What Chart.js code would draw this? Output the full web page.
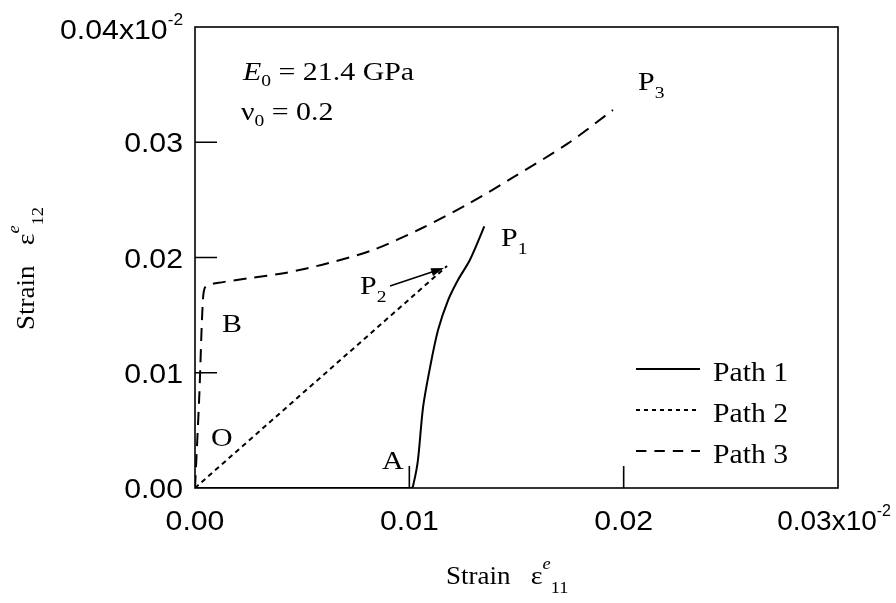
<!DOCTYPE html>
<html>
<head>
<meta charset="utf-8">
<script src="https://cdn.jsdelivr.net/npm/chart.js@4.4.1/dist/chart.umd.min.js"></script>
<style>
  html, body { margin: 0; padding: 0; background: #fff; }
  #wrap { width: 896px; height: 603px; }
</style>
</head>
<body>
<div id="wrap"><canvas id="chart"></canvas></div>
<script>
// axis ticks
const xTicks = [0, 0.01, 0.02, 0.03];
const yTicks = [0, 0.01, 0.02, 0.03, 0.04];
const xTickLabels = ['0.00', '0.01', '0.02', '0.03'];
const yTickLabels = ['0.00', '0.01', '0.02', '0.03', '0.04'];
const tickExponent = '-2';

// strain paths (units of 1e-2)
const seriesNames = ['Path 1', 'Path 2', 'Path 3'];
const path1X = [0, 0.0101, 0.0102, 0.0104, 0.01064, 0.01097, 0.01134, 0.01181, 0.01227, 0.01283, 0.0135];
const path1Y = [0, 0, 0.0004, 0.0024, 0.0070, 0.0105, 0.0137, 0.0163, 0.01805, 0.0198, 0.0227];
const path2X = [0, 0.01176];
const path2Y = [0, 0.01926];
const path3X = [0, 0.0002, 0.00037, 0.0005, 0.0011, 0.0025, 0.0042, 0.0062, 0.0083, 0.0106, 0.0128, 0.0148, 0.0174, 0.0195];
const path3Y = [0, 0.008, 0.0163, 0.0175, 0.0178, 0.0182, 0.01866, 0.0195, 0.02065, 0.02256, 0.0247, 0.0269, 0.0299, 0.0328];

const toPoints = (xs, ys) => xs.map((v, i) => ({ x: v, y: ys[i] }));

const SERIF = '"Liberation Serif", "Times New Roman", serif';
const SANS = '"Liberation Sans", Arial, sans-serif';
const dashes = [[], [5, 4], [13, 8]];

// draw a run of text pieces, each {t, font, dy}, stretched horizontally
function richWidth(ctx, parts, sx) {
    let w = 0;
    parts.forEach(p => { ctx.font = p.font; w += ctx.measureText(p.t).width; });
    return w * sx;
}
function drawRich(ctx, parts, x, y, align, sx = 1.15) {
    const w = richWidth(ctx, parts, sx);
    let cx = x;
    if (align === 'center') cx = x - w / 2;
    if (align === 'right') cx = x - w;
    ctx.save();
    ctx.translate(cx, y);
    ctx.scale(sx, 1);
    ctx.textAlign = 'left';
    ctx.textBaseline = 'alphabetic';
    ctx.fillStyle = '#000';
    let px = 0;
    parts.forEach(p => {
        ctx.font = p.font;
        ctx.fillText(p.t, px, p.dy || 0);
        px += ctx.measureText(p.t).width;
    });
    ctx.restore();
}

const big = '26px ' + SERIF;
const sub = '17px ' + SERIF;
const labelP = (n) => [{ t: 'P', font: '26px ' + SERIF }, { t: n, font: sub, dy: 8 }];

const framePlugin = {
    id: 'frame',
    afterDraw(chart) {
        const { ctx, chartArea: a, scales: { x, y } } = chart;
        ctx.save();
        ctx.strokeStyle = '#000';
        ctx.lineWidth = 1.6;
        ctx.strokeRect(a.left, a.top, a.right - a.left, a.bottom - a.top);

        // inward ticks on left and bottom
        ctx.beginPath();
        xTicks.slice(1, -1).forEach(v => {
            const px = x.getPixelForValue(v);
            ctx.moveTo(px, a.bottom);
            ctx.lineTo(px, a.bottom - 22);
        });
        yTicks.slice(1, -1).forEach(v => {
            const py = y.getPixelForValue(v);
            ctx.moveTo(a.left, py);
            ctx.lineTo(a.left + 22, py);
        });
        ctx.stroke();

        // tick labels
        const tf = '28px ' + SANS;
        const ef = '16px ' + SANS;
        xTicks.forEach((v, i) => {
            let px = x.getPixelForValue(v);
            const parts = [{ t: xTickLabels[i], font: tf }];
            if (i === xTicks.length - 1) {
                parts[0].t += 'x10';
                parts.push({ t: tickExponent, font: ef, dy: -14 });
                drawRich(ctx, parts, 891, a.bottom + 42, 'right', 1.0);
                return;
            }
            drawRich(ctx, parts, px, a.bottom + 42, 'center', 1.08);
        });
        yTicks.forEach((v, i) => {
            const py = y.getPixelForValue(v);
            const parts = [{ t: yTickLabels[i], font: tf }];
            let base = py + 10;
            if (i === yTicks.length - 1) {
                parts[0].t += 'x10';
                parts.push({ t: tickExponent, font: ef, dy: -14 });
                base = py + 12;
            }
            drawRich(ctx, parts, a.left - 12, base, 'right', 1.08);
        });

        // axis titles
        const tt = '25px ' + SERIF;
        const eps = [
            { t: 'Strain   ', font: tt },
            { t: 'ε', font: '26px ' + SERIF },
            { t: 'e', font: 'italic 17px ' + SERIF, dy: -15 }
        ];
        drawRich(ctx, eps.concat([{ t: '11', font: '17px ' + SERIF, dy: 9 }]), 446, 584, 'left', 1.08);
        ctx.save();
        ctx.translate(34, 330);
        ctx.rotate(-Math.PI / 2);
        drawRich(ctx, eps.concat([{ t: '12', font: '17px ' + SERIF, dy: 9 }]), 0, 0, 'left', 1.08);
        ctx.restore();

        // material constants
        drawRich(ctx, [
            { t: 'E', font: 'italic ' + big },
            { t: '0', font: sub, dy: 6 },
            { t: ' = 21.4 GPa', font: big }
        ], a.left + 48, a.top + 53, 'left');
        drawRich(ctx, [
            { t: 'ν', font: big },
            { t: '0', font: sub, dy: 6 },
            { t: ' = 0.2', font: big }
        ], a.left + 46, a.top + 93, 'left');

        // point labels
        drawRich(ctx, labelP('3'), 638, 90, 'left');
        drawRich(ctx, labelP('1'), 501, 246, 'left');
        drawRich(ctx, labelP('2'), 360, 294, 'left');
        drawRich(ctx, [{ t: 'B', font: '26px ' + SERIF }], 222, 332, 'left');
        drawRich(ctx, [{ t: 'O', font: '26px ' + SERIF }], 211, 446, 'left');
        drawRich(ctx, [{ t: 'A', font: '26px ' + SERIF }], 382, 469, 'left');

        // arrow from P2 label to the end of path 2
        const x0 = x.getPixelForValue(0.0091), y0 = y.getPixelForValue(0.01753);
        const x1 = x.getPixelForValue(0.01162), y1 = y.getPixelForValue(0.01909);
        const ang = Math.atan2(y1 - y0, x1 - x0);
        ctx.lineWidth = 1.6;
        ctx.beginPath();
        ctx.moveTo(x0, y0);
        ctx.lineTo(x1 - 8 * Math.cos(ang), y1 - 8 * Math.sin(ang));
        ctx.stroke();
        ctx.beginPath();
        ctx.moveTo(x1, y1);
        ctx.lineTo(x1 - 13 * Math.cos(ang) + 4 * Math.sin(ang), y1 - 13 * Math.sin(ang) - 4 * Math.cos(ang));
        ctx.lineTo(x1 - 13 * Math.cos(ang) - 4 * Math.sin(ang), y1 - 13 * Math.sin(ang) + 4 * Math.cos(ang));
        ctx.closePath();
        ctx.fillStyle = '#000';
        ctx.fill();

        // legend
        seriesNames.forEach((name, i) => {
            const ly = a.top + 342 + i * 41;
            ctx.beginPath();
            ctx.setLineDash(dashes[i].length ? [dashes[i][0] * 0.8, dashes[i][1]] : []);
            ctx.lineWidth = 2;
            ctx.moveTo(a.right - 202, ly);
            ctx.lineTo(a.right - 138, ly);
            ctx.stroke();
            ctx.setLineDash([]);
            drawRich(ctx, [{ t: name, font: '27px ' + SERIF }], a.right - 125, ly + 12, 'left', 1.1);
        });
        ctx.restore();
    }
};

const datasets = [
    toPoints(path1X, path1Y),
    toPoints(path2X, path2Y),
    toPoints(path3X, path3Y)
].map((pts, i) => ({
    label: seriesNames[i],
    data: pts,
    borderColor: '#000',
    borderWidth: 2,
    borderDash: dashes[i],
    pointRadius: 0,
    tension: 0.3,
    fill: false
}));

new Chart(document.getElementById('chart').getContext('2d'), {
    type: 'line',
    data: { datasets: datasets },
    options: {
        responsive: true,
        maintainAspectRatio: false,
        animation: false,
        layout: { padding: { left: 195, right: 58, top: 27, bottom: 115 } },
        plugins: { legend: { display: false }, tooltip: { enabled: false } },
        scales: {
            x: { type: 'linear', min: 0, max: 0.03, display: false },
            y: { type: 'linear', min: 0, max: 0.04, display: false }
        }
    },
    plugins: [framePlugin]
});
</script>
</body>
</html>
